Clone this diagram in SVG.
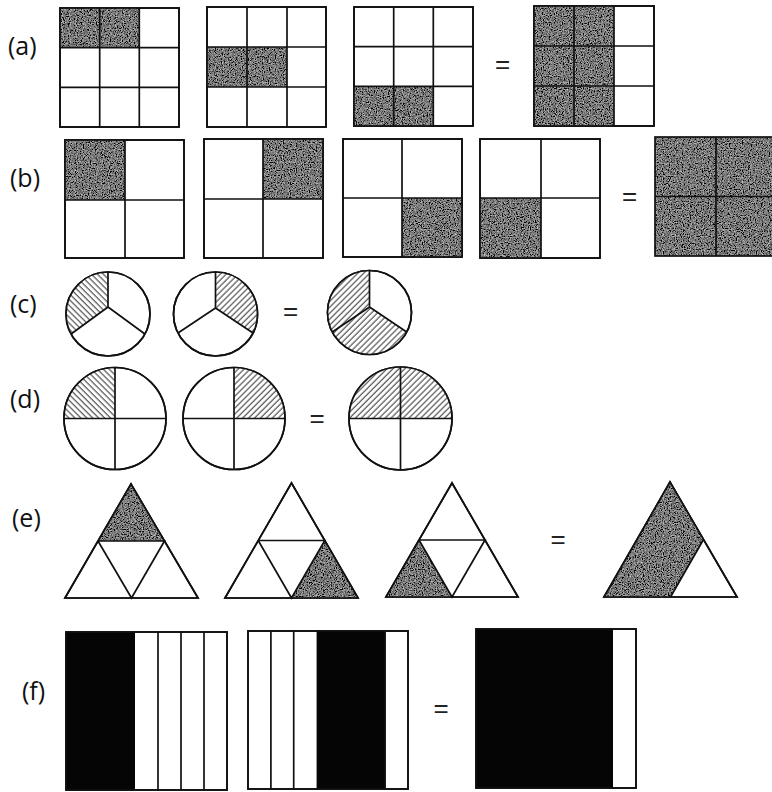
<svg xmlns="http://www.w3.org/2000/svg" width="772" height="792" viewBox="0 0 772 792">
<style>
.lbl{font-family:"Open Sans","Liberation Sans",sans-serif;font-size:25px;fill:#111}
.eq{font-family:"Liberation Sans",Arial,sans-serif;font-size:26px;fill:#222;text-anchor:middle}
.ln{fill:none;stroke:#111;stroke-width:1.7;stroke-linejoin:miter}
.wh{fill:#fff;stroke:#111;stroke-width:1.7}
.dk{fill:#4a4a4a;filter:url(#grain)}
.bk{fill:#050505}
.hR{fill:url(#hatchR)}
.hL{fill:url(#hatchL)}
</style>
<defs>
<filter id="grain" x="0" y="0" width="100%" height="100%">
<feTurbulence type="fractalNoise" baseFrequency="0.85" numOctaves="2" seed="4" result="n"/>
<feColorMatrix in="n" type="matrix" values="1.1 0 0 0 -0.36  1.1 0 0 0 -0.36  1.1 0 0 0 -0.36  0 0 0 0 1" result="g"/>
<feComposite in="g" in2="SourceGraphic" operator="in"/>
</filter>
<pattern id="hatchR" width="4.2" height="4.2" patternUnits="userSpaceOnUse" patternTransform="rotate(45)">
<rect width="4.2" height="4.2" fill="#fff"/>
<line x1="1" y1="0" x2="1" y2="4.2" stroke="#444" stroke-width="1.1"/>
</pattern>
<pattern id="hatchL" width="4.2" height="4.2" patternUnits="userSpaceOnUse" patternTransform="rotate(-45)">
<rect width="4.2" height="4.2" fill="#fff"/>
<line x1="1" y1="0" x2="1" y2="4.2" stroke="#444" stroke-width="1.1"/>
</pattern>
</defs>
<rect width="772" height="792" fill="#fff"/>

<g id="labels">
<text class="lbl" x="8" y="55">(a)</text>
<text class="lbl" x="10" y="187">(b)</text>
<text class="lbl" x="10" y="313">(c)</text>
<text class="lbl" x="10" y="408">(d)</text>
<text class="lbl" x="12" y="527">(e)</text>
<text class="lbl" x="22" y="700">(f)</text>
</g>

<g id="equals">
<text class="eq" x="502.5" y="73.4">=</text>
<text class="eq" x="629.5" y="205">=</text>
<text class="eq" x="290.5" y="320.4">=</text>
<text class="eq" x="317" y="427.4">=</text>
<text class="eq" x="558" y="548.4">=</text>
<text class="eq" x="441" y="717">=</text>
</g>

<!-- Row (a) -->
<g id="a1">
<rect class="wh" x="60" y="8" width="119" height="119"/>
<rect class="dk" x="60" y="8" width="79.3" height="39.7"/>
<path class="ln" d="M99.7 8V127M139.3 8V127M60 47.7H179M60 87.3H179"/>
<rect class="ln" x="60" y="8" width="119" height="119"/>
</g>
<g id="a2">
<rect class="wh" x="207" y="7" width="119" height="120"/>
<rect class="dk" x="207" y="47" width="80" height="40"/>
<path class="ln" d="M247 7V127M287 7V127M207 47H326M207 87H326"/>
<rect class="ln" x="207" y="7" width="119" height="120"/>
</g>
<g id="a3">
<rect class="wh" x="354" y="7" width="119" height="119"/>
<rect class="dk" x="354" y="86.3" width="79.3" height="39.7"/>
<path class="ln" d="M393.7 7V126M433.3 7V126M354 46.7H473M354 86.3H473"/>
<rect class="ln" x="354" y="7" width="119" height="119"/>
</g>
<g id="a4">
<rect class="wh" x="534" y="6" width="120" height="120"/>
<rect class="dk" x="534" y="6" width="80" height="120"/>
<path class="ln" d="M574 6V126M614 6V126M534 46H654M534 86H654"/>
<rect class="ln" x="534" y="6" width="120" height="120"/>
</g>

<!-- Row (b) -->
<g id="b1">
<rect class="wh" x="65" y="140" width="119" height="118"/>
<rect class="dk" x="65" y="140" width="60" height="60"/>
<path class="ln" d="M125 140V258M65 200H184"/>
<rect class="ln" x="65" y="140" width="119" height="118"/>
</g>
<g id="b2">
<rect class="wh" x="204" y="139" width="119" height="119"/>
<rect class="dk" x="263" y="139" width="60" height="60"/>
<path class="ln" d="M263 139V258M204 199H323"/>
<rect class="ln" x="204" y="139" width="119" height="119"/>
</g>
<g id="b3">
<rect class="wh" x="343" y="139" width="119" height="118"/>
<rect class="dk" x="402" y="198" width="60" height="59"/>
<path class="ln" d="M402 139V257M343 198H462"/>
<rect class="ln" x="343" y="139" width="119" height="118"/>
</g>
<g id="b4">
<rect class="wh" x="480" y="139" width="120" height="119"/>
<rect class="dk" x="480" y="198" width="61" height="60"/>
<path class="ln" d="M541 139V258M480 198H600"/>
<rect class="ln" x="480" y="139" width="120" height="119"/>
</g>
<g id="b5">
<rect class="dk" x="655" y="137" width="122" height="119"/>
<path class="ln" d="M716 137V256M655 196.5H777"/>
<rect class="ln" x="655" y="137" width="122" height="119"/>
</g>

<!-- Row (c) -->
<g id="c1">
<circle class="wh" cx="108" cy="314" r="42"/>
<path class="hL" d="M108 307L108 272A42 42 0 0 0 71.1 334Z"/>
<path class="ln" d="M108 272L108 307L71.1 334M108 307L144.9 334"/>
<circle class="ln" cx="108" cy="314" r="42"/>
</g>
<g id="c2">
<circle class="wh" cx="215.5" cy="314" r="42"/>
<path class="hR" d="M215.5 308L215.5 272A42 42 0 0 1 253 333Z"/>
<path class="ln" d="M215.5 272L215.5 308L178 333M215.5 308L253 333"/>
<circle class="ln" cx="215.5" cy="314" r="42"/>
</g>
<g id="c3">
<circle class="wh" cx="369.5" cy="312.5" r="42"/>
<path class="hR" d="M369.5 307L369.5 270.5A42 42 0 1 0 406.7 332Z"/>
<path class="ln" d="M369.5 270.5L369.5 307L332.3 332M369.5 307L406.7 332"/>
<circle class="ln" cx="369.5" cy="312.5" r="42"/>
</g>

<!-- Row (d) -->
<g id="d1">
<circle class="wh" cx="115" cy="418.5" r="51"/>
<path class="hL" d="M115 418.5L115 367.5A51 51 0 0 0 64 418.5Z"/>
<path class="ln" d="M115 367.5V469.5M64 418.5H166"/>
<circle class="ln" cx="115" cy="418.5" r="51"/>
</g>
<g id="d2">
<circle class="wh" cx="234" cy="418.5" r="51"/>
<path class="hR" d="M234 418.5L234 367.5A51 51 0 0 1 285 418.5Z"/>
<path class="ln" d="M234 367.5V469.5M183 418.5H285"/>
<circle class="ln" cx="234" cy="418.5" r="51"/>
</g>
<g id="d3">
<circle class="wh" cx="400.5" cy="418.5" r="51.5"/>
<path class="hR" d="M349 418.5A51.5 51.5 0 0 1 452 418.5Z"/>
<path class="ln" d="M400.5 367V470M349 418.5H452"/>
<circle class="ln" cx="400.5" cy="418.5" r="51.5"/>
</g>

<!-- Row (e) -->
<g id="e1">
<polygon class="wh" points="131,484 65,598 198,598"/>
<polygon class="dk" points="131,484 98,541 164.5,541"/>
<path class="ln" d="M98 541H164.5L131.5 598L98 541"/>
<polygon class="ln" points="131,484 65,598 198,598"/>
</g>
<g id="e2">
<polygon class="wh" points="291.5,483 225,598 358,598"/>
<polygon class="dk" points="324.8,540.5 358,598 291.5,598"/>
<path class="ln" d="M258.2 540.5H324.8L291.5 598L258.2 540.5"/>
<polygon class="ln" points="291.5,483 225,598 358,598"/>
</g>
<g id="e3">
<polygon class="wh" points="452,483 386,597 518,597"/>
<polygon class="dk" points="419,540 452,597 386,597"/>
<path class="ln" d="M419 540H485L452 597L419 540"/>
<polygon class="ln" points="452,483 386,597 518,597"/>
</g>
<g id="e4">
<polygon class="wh" points="670,482 604,597 737,597"/>
<polygon class="dk" points="670,482 703.5,539.5 670.5,597 604,597"/>
<path class="ln" d="M703.5 539.5L670.5 597"/>
<polygon class="ln" points="670,482 604,597 737,597"/>
</g>

<!-- Row (f) -->
<g id="f1">
<rect class="wh" x="66" y="632" width="161" height="158"/>
<rect class="bk" x="66" y="632" width="69" height="158"/>
<path class="ln" d="M158 632V790M181 632V790M204 632V790"/>
<rect class="ln" x="66" y="632" width="161" height="158"/>
</g>
<g id="f2">
<rect class="wh" x="248" y="631" width="160" height="158"/>
<rect class="bk" x="316.6" y="631" width="68.6" height="158"/>
<path class="ln" d="M270.9 631V789M293.7 631V789M385.1 631V789"/>
<rect class="ln" x="248" y="631" width="160" height="158"/>
</g>
<g id="f3">
<rect class="wh" x="476" y="629" width="160" height="159"/>
<rect class="bk" x="476" y="629" width="137" height="159"/>
<rect class="ln" x="476" y="629" width="160" height="159"/>
</g>
</svg>
